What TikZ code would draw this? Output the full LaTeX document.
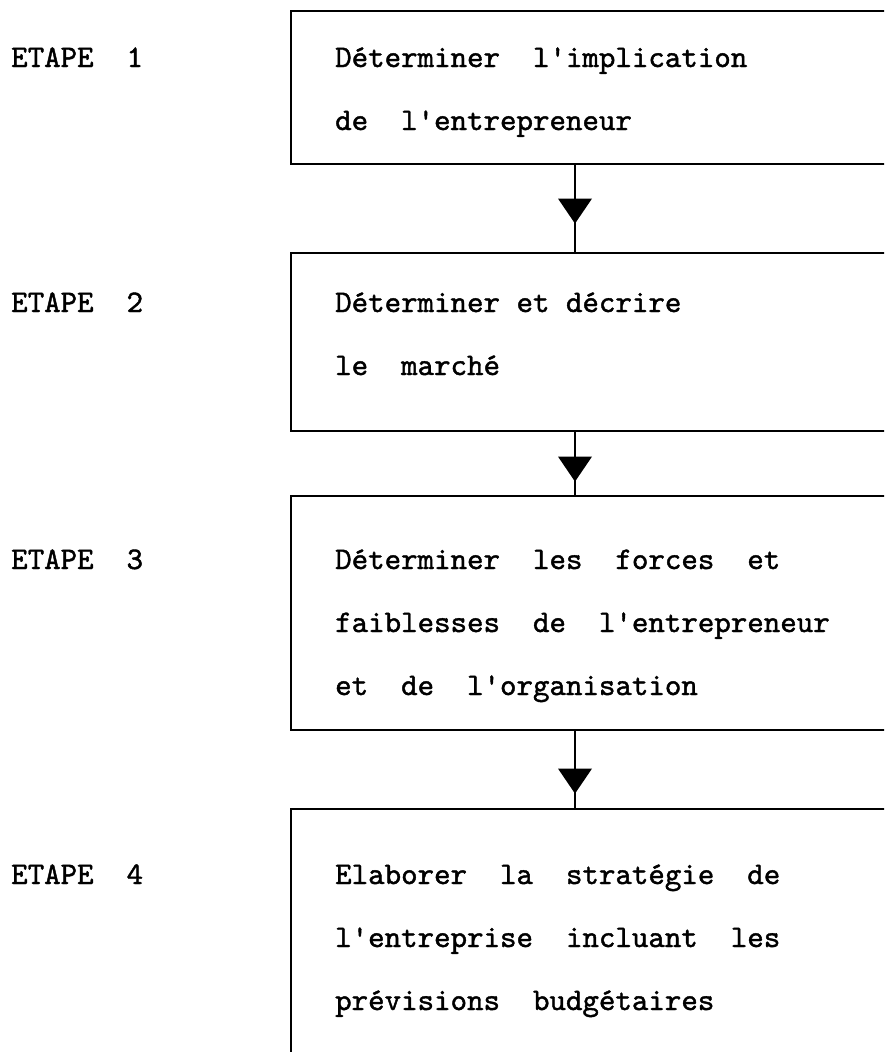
\documentclass[tikz,border=0pt]{standalone}
\usepackage{fontspec}
\newfontfamily\typew{lmmono10-regular}[Extension=.otf, FakeBold=1.3]
\usetikzlibrary{decorations.markings}
\begin{document}
\begin{tikzpicture}[x=1pt,y=-1pt,
  box/.style={draw, line width=1.6pt, anchor=north west, minimum width=640pt, inner sep=0pt},
  txt/.style={anchor=base west, inner sep=0pt, font=\fontsize{31.4}{40}\selectfont\typew},
  tri/.style={decoration={markings, mark=at position #1 with {\fill (0pt,17pt)--(0pt,-17pt)--(25pt,0pt)--cycle;}}},
  conn/.style={line width=1.5pt, postaction={decorate}, tri=#1}]
\useasboundingbox (0,0) rectangle (884,1052);
\clip (0,0) rectangle (884,1052);
\fill[white] (0,0) rectangle (884,1052);
% boxes
\node[box, minimum height=153pt] (b1) at (290,10) {};
\node[box, minimum height=178pt] (b2) at (290,252) {};
\node[box, minimum height=234pt] (b3) at (290,495) {};
\node[box, minimum height=300pt] (b4) at (290,808) {};
% connectors
\coordinate (ax) at (575,0);
\draw[conn=34pt] (ax |- b1.south) -- (ax |- b2.north);
\draw[conn=25pt] (ax |- b2.south) -- (ax |- b3.north);
\draw[conn=38pt] (ax |- b3.south) -- (ax |- b4.north);
% step labels
\node[txt] (e1) at (11,67) {ETAPE\ \ 1};
\node[txt] (e2) at (11,312) {ETAPE\ \ 2};
\node[txt] (e3) at (11,569) {ETAPE\ \ 3};
\node[txt] (e4) at (11,884) {ETAPE\ \ 4};
% box texts
\node[txt] (t11) at (335,67) {Déterminer\ \ l'implication};
\node[txt] (t12) at (335,130) {de\ \ l'entrepreneur};
\node[txt] (t21) at (335,312) {Déterminer et décrire};
\node[txt] (t22) at (335,375) {le\ \ marché};
\node[txt] (t31) at (335,569) {Déterminer\ \ les\ \ forces\ \ et};
\node[txt] (t32) at (335,632) {faiblesses\ \ de\ \ l'entrepreneur};
\node[txt] (t33) at (335,695) {et\ \ de\ \ l'organisation};
\node[txt] (t41) at (335,884) {Elaborer\ \ la\ \ stratégie\ \ de};
\node[txt] (t42) at (335,947) {l'entreprise\ \ incluant\ \ les};
\node[txt] (t43) at (335,1010) {prévisions\ \ budgétaires};
\end{tikzpicture}
\end{document}
